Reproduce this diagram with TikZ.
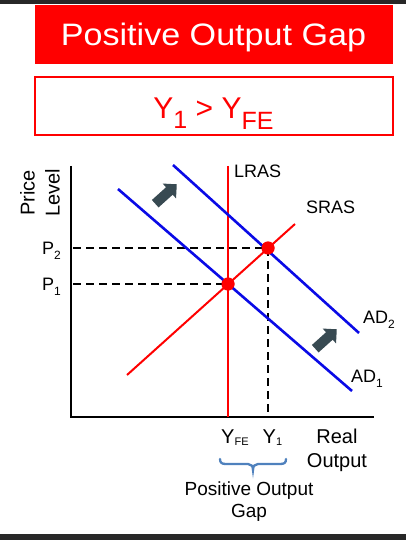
\documentclass[tikz,border=0pt]{standalone}
\usepackage{graphicx}
\usepackage{fontspec}
\setmainfont{Liberation Sans}
\definecolor{darkbar}{RGB}{40,40,40}
\definecolor{adblue}{RGB}{10,10,230}
\definecolor{arrowslate}{RGB}{56,74,82}
\definecolor{braceblue}{RGB}{79,129,189}
\newcommand\fs[1]{\fontsize{#1}{#1}\selectfont}
\newcommand\lowsub[3]{\raisebox{-#2pt}{\fs{#1}#3}}
\tikzset{
  axisline/.style={line width=2pt, black},
  asline/.style={line width=2pt, red},
  adline/.style={line width=2.6pt, adblue},
  guide/.style={line width=2.4pt, black, dash pattern=on 8pt off 5pt},
  eqdot/.style={circle, fill=red, inner sep=0pt, minimum size=13pt},
  lbl/.style={inner sep=0pt, font=\fs{18}},
  shiftarrow/.style={fill=arrowslate},
}
\newcommand\shiftarrowat[1]{%
  \fill[shiftarrow, shift={#1}, rotate=42] (-14.5pt,-5pt) -- (4.5pt,-5pt) -- (4.5pt,-10pt)
    -- (14.5pt,0pt) -- (4.5pt,10pt) -- (4.5pt,5pt) -- (-14.5pt,5pt) -- cycle;}
\begin{document}
\begin{tikzpicture}[x=1pt,y=-1pt]
\useasboundingbox (0,0) rectangle (406,540);
\fill[darkbar] (0,0) rectangle (406,4);
\fill[darkbar] (0,534) rectangle (406,540);
% title
\node[fill=red, minimum width=358pt, minimum height=59pt, inner sep=0pt] (titlebox) at (214,34.5) {};
\node[anchor=base, inner sep=0pt, text=white] (titletext) at (213.5,45.7)
  {\scalebox{1.1}[1]{\fs{31}Positive Output Gap}};
\node[draw=red, line width=2pt, minimum width=358pt, minimum height=58pt, inner sep=0pt] (eqbox) at (214,106) {};
\node[anchor=base, inner sep=0pt, text=red] (eqtext) at (213.5,119)
  {\fs{30}Y\lowsub{25}{10}{1} \textgreater{} Y\lowsub{25}{11}{FE}};
% axes
\coordinate (ytop) at (71,166);
\coordinate (origin) at (71,417);
\coordinate (xend) at (374,417);
\draw[axisline] (ytop) -- (origin) -- (xend);
\node[rotate=90, align=center, inner sep=0pt, font=\fs{20}] (ylabel) at (40,193)
  {Price\\[5pt]Level};
% curves
\coordinate (lrasT) at (228,166);
\coordinate (lrasB) at (228,417);
\coordinate (srasA) at (127,375);
\coordinate (srasB) at (295,224);
\coordinate (ad1A) at (118,189);
\coordinate (ad1B) at (352,391);
\coordinate (ad2A) at (173,165);
\coordinate (ad2B) at (359,333);
\coordinate (p2L) at (73,248);
\coordinate (p1L) at (73,284);
\coordinate (y1B) at (268,417);
\node[eqdot] (e1) at (228,284) {};
\node[eqdot] (e2) at (268,248) {};
\draw[guide] (p2L) -- (e2.center);
\draw[guide] (p1L) -- (e1.center);
\draw[guide] (e2.center) -- (y1B);
\draw[asline] (lrasT) -- (lrasB);
\draw[asline] (srasA) -- (srasB);
\draw[adline] (ad1A) -- (ad1B);
\draw[adline] (ad2A) -- (ad2B);
\node[eqdot] at (e1) {};
\node[eqdot] at (e2) {};
% shift arrows
\shiftarrowat{(166,194)}
\shiftarrowat{(326,339)}
% labels
\node[lbl, anchor=base west] (lraslbl) at (234,178) {LRAS};
\node[lbl, anchor=base west] (sraslbl) at (306,213) {SRAS};
\node[lbl, anchor=base west] (ad2lbl) at (363,323) {AD\lowsub{12}{5}{2}};
\node[lbl, anchor=base west] (ad1lbl) at (351,382) {AD\lowsub{12}{5}{1}};
\node[lbl, anchor=base west] (p2lbl) at (42,254) {P\lowsub{12}{5}{2}};
\node[lbl, anchor=base west] (p1lbl) at (42,290) {P\lowsub{12}{5}{1}};
\node[inner sep=0pt, anchor=base west, font=\fs{20}] (yfelbl) at (221,443) {Y\lowsub{11}{2}{FE}};
\node[inner sep=0pt, anchor=base west, font=\fs{20}] (y1lbl) at (262.5,443) {Y\lowsub{11}{2}{1}};
\node[inner sep=0pt, align=center, anchor=base, font=\fontsize{20}{24}\selectfont] (xlabel) at (337,467) {Real\\Output};
% brace
\draw[braceblue, line width=2.3pt, line cap=round]
  (220,459) .. controls (220,463) and (222,464) .. (226,464) -- (248,464)
  .. controls (251,464) and (253,466) .. (253,470)
  .. controls (253,466) and (255,464) .. (258,464) -- (280,464)
  .. controls (284,464) and (286,463) .. (286,459);
\node[inner sep=0pt, align=center, anchor=base, font=\fontsize{19}{21.7}\selectfont] (gaplbl) at (249,517) {Positive Output\\Gap};
\end{tikzpicture}
\end{document}
